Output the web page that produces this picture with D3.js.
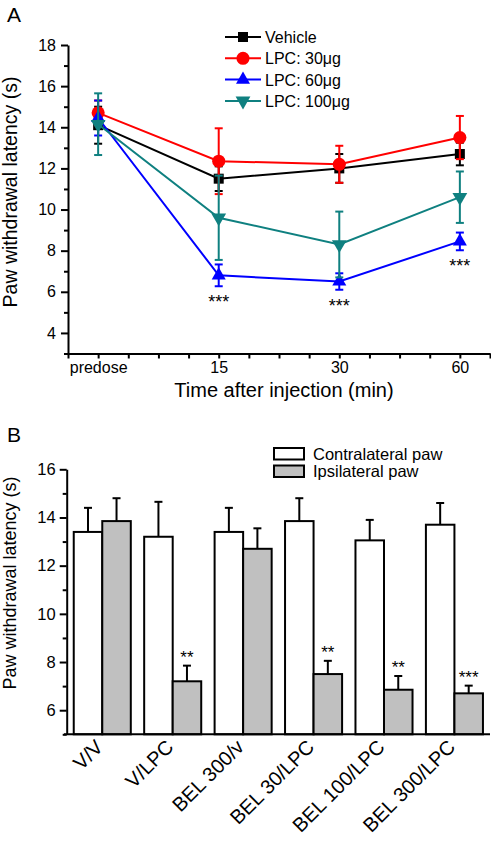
<!DOCTYPE html>
<html lang="en">
<head>
    <meta charset="utf-8">
    <title>Paw withdrawal latency</title>
    <style>
        body { margin: 0; background: white; }
        text { font-family: 'Liberation Sans', Arial, sans-serif; fill: black; }
        .axis path, .axis line { stroke: black; stroke-width: 2px; }
    </style>
</head>
<body>
<svg id="chart" width="491" height="848"></svg>
<script src="https://d3js.org/d3.v7.min.js"></script>
<script>
// Panel A data
const timeLabels = ["predose", "15", "30", "60"];
const seriesNames = ["Vehicle", "LPC: 30μg", "LPC: 60μg", "LPC: 100μg"];
const seriesColors = ["#000000", "#ff0000", "#0000ff", "#0f8080"];
const vehicleMean = [14.1, 11.5, 12.0, 12.7];
const vehicleErr = [0.9, 0.6, 0.7, 0.55];
const lpc30Mean = [14.7, 12.35, 12.2, 13.5];
const lpc30Err = [0.6, 1.6, 0.9, 1.05];
const lpc60Mean = [14.45, 6.8, 6.5, 8.45];
const lpc60Err = [0.85, 0.53, 0.4, 0.43];
const lpc100Mean = [14.15, 9.6, 8.3, 10.6];
const lpc100Err = [1.5, 2.05, 1.6, 1.25];
const lpc60Stars = ["", "***", "***", "***"];

// Panel B data
const groups = ["V/V", "V/LPC", "BEL 300/v", "BEL 30/LPC", "BEL 100/LPC", "BEL 300/LPC"];
const pawNames = ["Contralateral paw", "Ipsilateral paw"];
const pawColors = ["#ffffff", "#c0c0c0"];
const contraMean = [13.4, 13.2, 13.4, 13.85, 13.05, 13.7];
const contraErr = [1.0, 1.45, 1.0, 0.95, 0.85, 0.9];
const ipsiMean = [13.85, 7.2, 12.7, 7.5, 6.85, 6.7];
const ipsiErr = [0.95, 0.65, 0.85, 0.55, 0.57, 0.32];
const ipsiStars = ["", "**", "", "**", "**", "***"];

const svg = d3.select("#chart");

drawPanelA();
drawPanelB();

function drawPanelA() {
    const g = svg.append("g");
    const xScale = d3.scaleLinear().domain([-0.25, 3.25]).range([68, 490]);
    const yScale = d3.scaleLinear().domain([3, 18]).range([353.5, 45]);

    // x axis, minor ticks every quarter step
    const xAxis = g.append("g")
        .attr("class", "axis")
        .attr("transform", "translate(0,353.5)")
        .call(d3.axisBottom(xScale)
            .tickValues(d3.range(-0.25, 3.26, 0.25))
            .tickSize(5)
            .tickSizeOuter(0)
            .tickPadding(3)
            .tickFormat(d => Number.isInteger(d) ? timeLabels[d] : ""));
    xAxis.selectAll("text").style("font-size", "16px");

    const yAxis = g.append("g")
        .attr("class", "axis")
        .attr("transform", "translate(68,0)")
        .call(d3.axisLeft(yScale)
            .tickValues(d3.range(3, 18.1, 1))
            .tickSize(7)
            .tickSizeOuter(0)
            .tickPadding(5)
            .tickFormat(d => d % 2 === 0 ? d : ""));
    yAxis.selectAll("text").style("font-size", "16px");
    yAxis.selectAll(".tick line").attr("x2", d => d % 2 === 0 ? -7 : -4);

    g.append("text")
        .attr("transform", "translate(17,192) rotate(-90)")
        .attr("text-anchor", "middle")
        .style("font-size", "19.5px")
        .text("Paw withdrawal latency (s)");
    g.append("text")
        .attr("x", 284).attr("y", 397)
        .attr("text-anchor", "middle")
        .style("font-size", "20px")
        .text("Time after injection (min)");
    g.append("text")
        .attr("x", 7).attr("y", 22)
        .style("font-size", "21px")
        .text("A");

    const series = [
        {name: seriesNames[0], mean: vehicleMean, err: vehicleErr, color: seriesColors[0], symbol: d3.symbolSquare, size: 100, rot: 0},
        {name: seriesNames[1], mean: lpc30Mean, err: lpc30Err, color: seriesColors[1], symbol: d3.symbolCircle, size: 135, rot: 0},
        {name: seriesNames[2], mean: lpc60Mean, err: lpc60Err, color: seriesColors[2], symbol: d3.symbolTriangle, size: 85, rot: 0},
        {name: seriesNames[3], mean: lpc100Mean, err: lpc100Err, color: seriesColors[3], symbol: d3.symbolTriangle, size: 95, rot: 180}
    ];

    const line = d3.line()
        .x((d, i) => xScale(i))
        .y(d => yScale(d));

    series.forEach(s => {
        const sg = g.append("g");
        sg.append("path")
            .attr("d", line(s.mean))
            .attr("fill", "none")
            .attr("stroke", s.color)
            .attr("stroke-width", 2);
        // error bars
        s.mean.forEach((m, i) => {
            const x = xScale(i);
            const y0 = yScale(m - s.err[i]), y1 = yScale(m + s.err[i]);
            sg.append("line").attr("x1", x).attr("x2", x).attr("y1", y0).attr("y2", y1)
                .attr("stroke", s.color).attr("stroke-width", 2);
            [y0, y1].forEach(y => sg.append("line")
                .attr("x1", x - 4).attr("x2", x + 4).attr("y1", y).attr("y2", y)
                .attr("stroke", s.color).attr("stroke-width", 2));
        });
        sg.selectAll(".marker")
            .data(s.mean)
            .join("path")
            .attr("class", "marker")
            .attr("d", d3.symbol().type(s.symbol).size(s.size))
            .attr("transform", (d, i) => "translate(" + xScale(i) + "," + yScale(d) + ") rotate(" + s.rot + ")")
            .attr("fill", s.color);
    });

    // significance marks under LPC 60
    g.selectAll(".starA")
        .data(lpc60Stars)
        .join("text")
        .attr("class", "starA")
        .attr("x", (d, i) => xScale(i))
        .attr("y", (d, i) => yScale(lpc60Mean[i] - lpc60Err[i]) + 22)
        .attr("text-anchor", "middle")
        .style("font-size", "18px")
        .text(d => d);

    // legend
    const legend = g.append("g");
    series.forEach((s, i) => {
        const y = 37 + i * 21.3;
        legend.append("line").attr("x1", 225).attr("x2", 261).attr("y1", y).attr("y2", y)
            .attr("stroke", s.color).attr("stroke-width", 2);
        legend.append("path")
            .attr("d", d3.symbol().type(s.symbol).size(s.size))
            .attr("transform", "translate(243," + y + ") rotate(" + s.rot + ")")
            .attr("fill", s.color);
        legend.append("text")
            .attr("x", 265).attr("y", y + 6)
            .style("font-size", "16px")
            .text(s.name);
    });
}

function drawPanelB() {
    const g = svg.append("g");
    const xScale = d3.scaleBand().domain(groups).range([66.7, 490])
        .paddingInner(0.19).paddingOuter(0.1);
    const xSub = d3.scaleBand().domain(pawNames).range([0, xScale.bandwidth()]);
    const yScale = d3.scaleLinear().domain([5, 16]).range([734.3, 469.3]);

    const yAxis = g.append("g")
        .attr("class", "axis")
        .attr("transform", "translate(66.7,0)")
        .call(d3.axisLeft(yScale)
            .tickValues(d3.range(5, 16.1, 1))
            .tickSize(7)
            .tickSizeOuter(0)
            .tickPadding(4)
            .tickFormat(d => d % 2 === 0 ? d : ""));
    yAxis.selectAll("text").style("font-size", "16.5px");
    yAxis.selectAll(".tick line").attr("x2", d => d % 2 === 0 ? -7 : -4);

    const rows = groups.map((grp, i) => ({
        group: grp,
        bars: [
            {paw: pawNames[0], mean: contraMean[i], err: contraErr[i], star: ""},
            {paw: pawNames[1], mean: ipsiMean[i], err: ipsiErr[i], star: ipsiStars[i]}
        ]
    }));

    const grpSel = g.selectAll(".grp")
        .data(rows)
        .join("g")
        .attr("class", "grp")
        .attr("transform", d => "translate(" + xScale(d.group) + ",0)");

    const barSel = grpSel.selectAll(".bar")
        .data(d => d.bars)
        .join("g")
        .attr("class", "bar");

    // error bars first, so the bar outline covers the stem
    barSel.append("line")
        .attr("x1", d => xSub(d.paw) + xSub.bandwidth() / 2)
        .attr("x2", d => xSub(d.paw) + xSub.bandwidth() / 2)
        .attr("y1", d => yScale(d.mean))
        .attr("y2", d => yScale(d.mean + d.err))
        .attr("stroke", "black").attr("stroke-width", 2);
    barSel.append("line")
        .attr("x1", d => xSub(d.paw) + xSub.bandwidth() / 2 - 4)
        .attr("x2", d => xSub(d.paw) + xSub.bandwidth() / 2 + 4)
        .attr("y1", d => yScale(d.mean + d.err))
        .attr("y2", d => yScale(d.mean + d.err))
        .attr("stroke", "black").attr("stroke-width", 2);
    barSel.append("rect")
        .attr("x", d => xSub(d.paw))
        .attr("width", xSub.bandwidth())
        .attr("y", d => yScale(d.mean))
        .attr("height", d => yScale(5) - yScale(d.mean))
        .attr("fill", (d, i) => pawColors[i])
        .attr("stroke", "black")
        .attr("stroke-width", 2);
    barSel.append("text")
        .attr("x", d => xSub(d.paw) + xSub.bandwidth() / 2)
        .attr("y", d => yScale(d.mean + d.err) - 3)
        .attr("text-anchor", "middle")
        .style("font-size", "17px")
        .text(d => d.star);

    // x axis line and rotated group labels
    g.append("line")
        .attr("x1", 64).attr("x2", 490)
        .attr("y1", yScale(5)).attr("y2", yScale(5))
        .attr("stroke", "black").attr("stroke-width", 2);
    g.selectAll(".xlab")
        .data(groups)
        .join("text")
        .attr("class", "xlab")
        .attr("text-anchor", "end")
        .attr("transform", d => "translate(" + (xScale(d) + xScale.bandwidth() / 2 + 2) + "," + (yScale(5) + 14) + ") rotate(-45)")
        .style("font-size", "20px")
        .text(d => d);

    g.append("text")
        .attr("transform", "translate(16,583) rotate(-90)")
        .attr("text-anchor", "middle")
        .style("font-size", "18px")
        .text("Paw withdrawal latency (s)");
    g.append("text")
        .attr("x", 7).attr("y", 442)
        .style("font-size", "21px")
        .text("B");

    // legend
    pawNames.forEach((p, i) => {
        const y = 448 + i * 17.5;
        g.append("rect")
            .attr("x", 274).attr("y", y)
            .attr("width", 30).attr("height", 11.5)
            .attr("fill", pawColors[i])
            .attr("stroke", "black").attr("stroke-width", 2);
        g.append("text")
            .attr("x", 313).attr("y", y + 11.5)
            .style("font-size", "16.5px")
            .text(p);
    });
}
</script>
</body>
</html>
